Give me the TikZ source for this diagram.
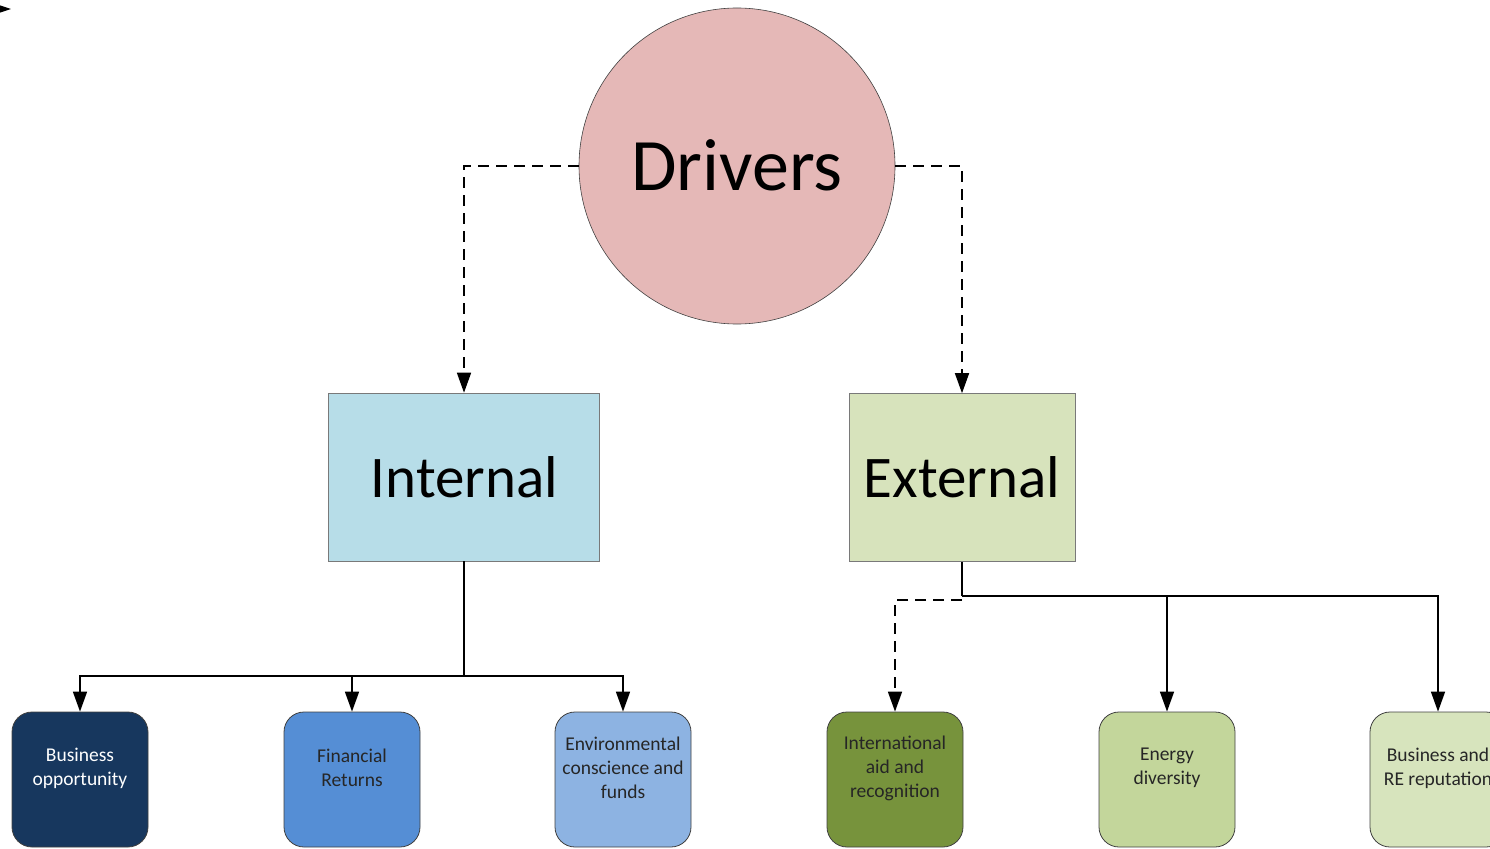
\documentclass[tikz,border=0pt]{standalone}
\usepackage{fontspec}
\setmainfont{Carlito}
\usetikzlibrary{arrows.meta}
\definecolor{drvfill}{HTML}{E5B8B7}
\definecolor{intfill}{HTML}{B7DDE8}
\definecolor{extfill}{HTML}{D7E3BC}
\definecolor{bizfill}{HTML}{17375E}
\definecolor{finfill}{HTML}{558ED5}
\definecolor{envfill}{HTML}{8DB3E2}
\definecolor{aidfill}{HTML}{77933C}
\definecolor{enefill}{HTML}{C3D69B}
\definecolor{repfill}{HTML}{D7E4BD}
\definecolor{edgegray}{HTML}{404040}
\tikzset{
  tip/.style={-{Triangle[width=14pt,length=20pt]}},
  link/.style={line width=1.6pt, black},
  dlink/.style={link, dash pattern=on 11pt off 7pt},
  catbox/.style={draw=edgegray!70, line width=0.6pt, minimum width=#1, minimum height=168pt, inner sep=0pt},
  leaf/.style={draw=edgegray, line width=0.8pt, rounded corners=20pt, minimum width=136pt, minimum height=135pt, inner sep=0pt},
  leaftext/.style={align=center, font=\fontsize{19.5}{24}\selectfont, inner sep=0pt}
}
\begin{document}
\begin{tikzpicture}[x=1pt, y=-1pt]
\useasboundingbox (0,0) rectangle (1490,848);
\begin{scope}
\clip (0,0) rectangle (1490,848);

% small stray arrow tip at the upper left
\coordinate (stray0) at (-30,9);
\coordinate (stray1) at (11,9);
\draw[line width=1pt, -{Triangle[width=7pt,length=11pt]}] (stray0) -- (stray1);

% root circle
\node[circle, draw=edgegray, line width=0.6pt, fill=drvfill, minimum size=316pt, inner sep=0pt] (drivers) at (737,166) {};
\node[anchor=base, font=\fontsize{74}{80}\selectfont, inner sep=0pt] (driverslbl) at (737,190) {Drivers};

% two categories
\node[catbox=271pt, fill=intfill] (internal) at (464,477) {};
\node[anchor=base, font=\fontsize{59}{64}\selectfont, inner sep=0pt] (internallbl) at (464.5,497) {Internal};
\node[catbox=226pt, fill=extfill] (external) at (962,477.5) {};
\node[anchor=base, font=\fontsize{59}{64}\selectfont, inner sep=0pt] (externallbl) at (962,497) {External};

% leaves
\node[leaf, fill=bizfill] (biz) at (80,779.5) {};
\node[leaf, fill=finfill] (fin) at (352,779.5) {};
\node[leaf, fill=envfill] (env) at (623,779.5) {};
\node[leaf, fill=aidfill] (aid) at (895,779.5) {};
\node[leaf, fill=enefill] (ene) at (1167,779.5) {};
\node[leaf, fill=repfill] (rep) at (1438,779.5) {};

\node[leaftext, text=white] (bizlbl) at (80,768) {Business\\opportunity};
\node[leaftext, text=black!85] (finlbl) at (352,768) {Financial\\Returns};
\node[leaftext, text=black!85] (envlbl) at (623,768) {Environmental\\conscience and\\funds};
\node[leaftext, text=black!85] (aidlbl) at (895,768) {International\\aid and\\recognition};
\node[leaftext, text=black!85] (enelbl) at (1167,768) {Energy\\diversity};
\node[leaftext, text=black!85] (replbl) at (1438,768) {Business and\\RE reputation};

% drivers to categories
\draw[dlink, tip] (drivers.west) -| (internal.north);
\draw[dlink, tip] (drivers.east) -| (external.north);

% internal branch
\coordinate (ibus) at (464,676);
\draw[link] (internal.south) -- (ibus);
\draw[link, tip] (ibus) -| (biz.north);
\draw[link, tip] (ibus) -| (fin.north);
\draw[link, tip] (ibus) -| (env.north);

% external branch
\coordinate (ebus) at (962,596);
\coordinate (ebusd) at (962,600);
\draw[link] (external.south) -- (ebus);
\draw[link, tip] (ebus) -| (ene.north);
\draw[link, tip] (ebus) -| (rep.north);
\draw[dlink, tip] (ebusd) -| (aid.north);
\end{scope}
\end{tikzpicture}
\end{document}
